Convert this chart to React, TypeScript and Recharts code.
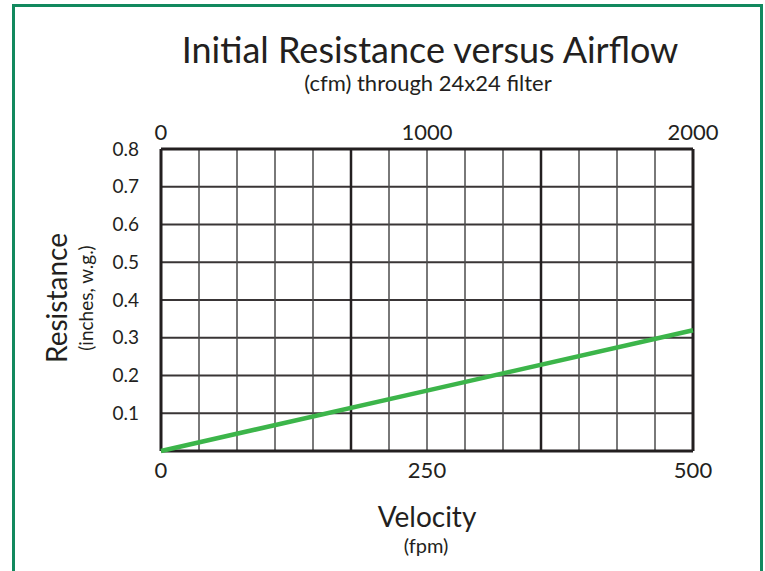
import { LineChart, Line, XAxis, YAxis, CartesianGrid, ReferenceLine } from "recharts";

// velocity (fpm) vs initial resistance (inches w.g.), airflow is cfm through a 24x24 (4 sq ft) filter
const velocity = [0, 250, 500];
const airflow = [0, 1000, 2000];
const resistance = [0, 0.16, 0.32];

const velocityTicks = [0, 250, 500];
const airflowTicks = [0, 1000, 2000];
const resistanceTicks = [0.1, 0.2, 0.3, 0.4, 0.5, 0.6, 0.7, 0.8];

// the vertical grid is split in 14 cells, heavier lines every 5
const gridCells = 14;
const majorCells = [5, 10];

const data = velocity.map((v, i) => ({ velocity: v, airflow: airflow[i], resistance: resistance[i] }));

const FONT = "Lato, 'Open Sans', sans-serif";
const INK = "#231f20";

const verticals = Array.from({ length: gridCells - 1 }, (_, i) => i + 1);

export default function App() {
  return (
    <div
      style={{
        position: "absolute",
        left: 0,
        top: 0,
        width: 765,
        height: 571,
        overflow: "hidden",
        background: "#fff",
      }}
    >
      <div
        style={{
          position: "absolute",
          left: 12,
          top: 4,
          width: 751,
          height: 600,
          boxSizing: "border-box",
          border: "3px solid #12895e",
          borderBottom: "none",
        }}
      />

      <div style={{ position: "absolute", left: 0, top: 0 }}>
        <LineChart width={765} height={571} data={data} margin={{ top: 119, right: 72, bottom: 90, left: 121 }}>
          <CartesianGrid vertical={false} stroke={INK} strokeWidth={2} strokeOpacity={0.9} />
          <XAxis
            xAxisId="fpm"
            dataKey="velocity"
            type="number"
            domain={[0, 500]}
            ticks={velocityTicks}
            orientation="bottom"
            height={30}
            axisLine={false}
            tickLine={false}
            tickSize={0}
            tickMargin={11}
            tick={{ fill: INK, fontSize: 22, fontFamily: FONT }}
          />
          <XAxis
            xAxisId="cfm"
            dataKey="airflow"
            type="number"
            domain={[0, 2000]}
            ticks={airflowTicks}
            orientation="top"
            height={30}
            axisLine={false}
            tickLine={false}
            tickSize={0}
            tickMargin={9}
            tick={{ fill: INK, fontSize: 22, fontFamily: FONT }}
          />
          <YAxis
            type="number"
            domain={[0, 0.8]}
            ticks={resistanceTicks}
            width={40}
            axisLine={false}
            tickLine={false}
            tickSize={0}
            tickMargin={22}
            tickFormatter={(v: number) => v.toFixed(1)}
            tick={{ fill: INK, fontSize: 19, fontFamily: FONT }}
          />
          {verticals.map((i) => (
            <ReferenceLine
              key={i}
              xAxisId="fpm"
              x={(i * 500) / gridCells}
              stroke={majorCells.includes(i) ? INK : "#4d4d4d"}
              strokeWidth={majorCells.includes(i) ? 2.5 : 1.5}
            />
          ))}
          <ReferenceLine xAxisId="fpm" x={0} stroke={INK} strokeWidth={3} />
          <ReferenceLine xAxisId="fpm" x={500} stroke={INK} strokeWidth={3} />
          <ReferenceLine xAxisId="fpm" y={0} stroke={INK} strokeWidth={3} />
          <ReferenceLine xAxisId="fpm" y={0.8} stroke={INK} strokeWidth={3} />
          {/* same curve read against the cfm scale, kept invisible so the top axis has data */}
          <Line
            xAxisId="cfm"
            dataKey="resistance"
            type="linear"
            stroke="none"
            dot={false}
            activeDot={false}
            isAnimationActive={false}
          />
          <Line
            xAxisId="fpm"
            dataKey="resistance"
            type="linear"
            stroke="#3cb54a"
            strokeWidth={4.5}
            dot={false}
            isAnimationActive={false}
          />
        </LineChart>
      </div>

      <svg
        width={765}
        height={571}
        style={{ position: "absolute", left: 0, top: 0, pointerEvents: "none" }}
        fontFamily={FONT}
        fill={INK}
      >
        <text x={430} y={63} textAnchor="middle" fontSize={36}>
          Initial Resistance versus Airflow
        </text>
        <text x={428} y={91} textAnchor="middle" fontSize={22}>
          (cfm) through 24x24 filter
        </text>
        <text x={427} y={527} textAnchor="middle" fontSize={28}>
          Velocity
        </text>
        <text x={426} y={553} textAnchor="middle" fontSize={20}>
          (fpm)
        </text>
        <text x={67} y={298} textAnchor="middle" fontSize={28} transform="rotate(-90 67 298)">
          Resistance
        </text>
        <text x={93} y={298} textAnchor="middle" fontSize={19} transform="rotate(-90 93 298)">
          (inches, w.g.)
        </text>
      </svg>
    </div>
  );
}
